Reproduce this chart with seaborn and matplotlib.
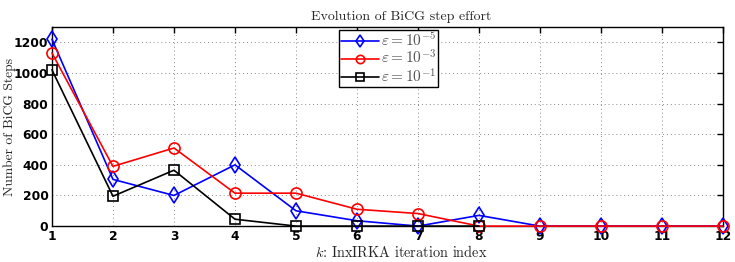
import seaborn as sns
import matplotlib.pyplot as plt

sns.set_style("whitegrid")
plt.rcParams["mathtext.fontset"] = "cm"

# Data
iters = list(range(1, 13))
eps5 = [1220, 305, 200, 400, 100, 35, 0, 70, 0, 0, 0, 0]
eps3 = [1130, 390, 510, 215, 215, 110, 82, 0, 0, 0, 0, 0]
eps1 = [1020, 195, 365, 45, 0, 0, 0, 0]

labels = [r"$\varepsilon = 10^{-5}$", r"$\varepsilon = 10^{-3}$", r"$\varepsilon = 10^{-1}$"]
colors = ["blue", "red", "black"]
markers = ["d", "o", "s"]
sizes = [8, 8, 7]

fig = plt.figure(figsize=(7.35, 2.62), dpi=100)
ax = fig.add_axes([0.0707, 0.137, 0.913, 0.76])

for ys, lab, c, m, ms in zip([eps5, eps3, eps1], labels, colors, markers, sizes):
    sns.lineplot(x=iters[:len(ys)], y=ys, color=c, marker=m, markersize=ms,
                 markerfacecolor="none", markeredgecolor=c, markeredgewidth=1.2,
                 linewidth=1.2, label=lab, ax=ax, clip_on=False, zorder=5)

ax.set_xlim(1, 12)
ax.set_ylim(0, 1300)
ax.set_xticks(iters)
ax.set_yticks(range(0, 1201, 200))
ax.grid(True, linestyle=(0, (1, 3)), color="#888888", linewidth=0.7)
for s in ax.spines.values():
    s.set_color("black")
    s.set_linewidth(1.0)
ax.tick_params(direction="in", top=True, right=True, length=4, width=1, colors="black", pad=2.5)
for t in ax.get_xticklabels() + ax.get_yticklabels():
    t.set_fontweight("bold")
    t.set_fontsize(8.8)
    t.set_family("DejaVu Sans")

ax.set_title("Evolution of BiCG step effort", fontsize=10, family="cmr10", pad=5, x=0.52)
ax.set_xlabel(r"$k$: InxIRKA iteration index", fontsize=10.3, family="cmr10", labelpad=1, x=0.52)
ax.set_ylabel("Number of BiCG Steps", fontsize=9.8, family="cmr10")
ax.yaxis.set_label_coords(-0.054, 0.5)

leg = ax.legend(loc="upper left", bbox_to_anchor=(0.428, 0.985), fontsize=11,
                frameon=True, fancybox=False, edgecolor="black", framealpha=1,
                borderpad=0.1, labelspacing=0.0, handlelength=2.5, handletextpad=0.15,
                borderaxespad=0.0)
leg.get_frame().set_linewidth(1.0)
for t in leg.get_texts():
    t.set_color("#555555")
for h in leg.legend_handles:
    h.set_markersize(6)

fig.savefig("out.png", dpi=100)
